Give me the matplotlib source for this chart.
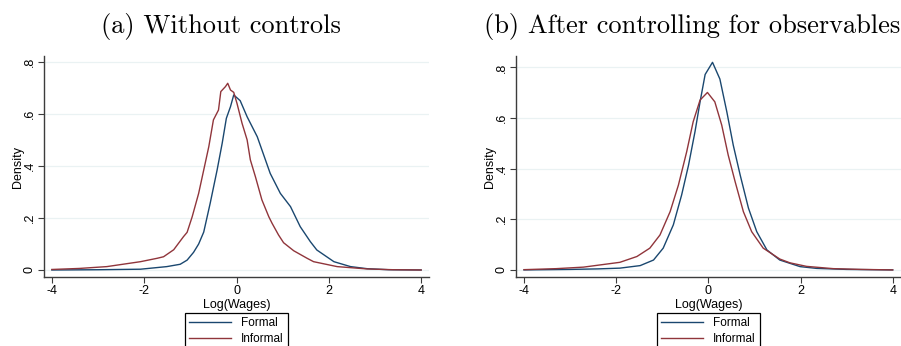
import matplotlib
matplotlib.use("Agg")
import matplotlib.pyplot as plt

W, H = 901, 346

# panel (a): without controls
xa_formal = [-4.0, -3.0, -2.08, -1.51, -1.22, -1.07, -0.93, -0.82, -0.71, -0.57, -0.42, -0.31,
             -0.22, -0.13, -0.06, 0.08, 0.23, 0.45, 0.73, 0.95, 1.17, 1.38, 1.60, 1.74, 2.11,
             2.47, 2.83, 3.3, 4.0]
ya_formal = [0.0, 0.001, 0.003, 0.013, 0.022, 0.038, 0.068, 0.100, 0.146, 0.257, 0.385, 0.488,
             0.584, 0.629, 0.674, 0.652, 0.590, 0.513, 0.372, 0.295, 0.244, 0.167, 0.109,
             0.077, 0.032, 0.013, 0.005, 0.001, 0.0]
xa_informal = [-4.0, -3.4, -2.81, -2.08, -1.72, -1.58, -1.36, -1.15, -1.07, -0.96, -0.82,
               -0.71, -0.60, -0.50, -0.39, -0.34, -0.24, -0.19, -0.13, -0.06, 0.01, 0.12,
               0.23, 0.30, 0.41, 0.55, 0.70, 0.77, 0.91, 1.02, 1.24, 1.53, 1.67, 2.18, 2.83,
               3.4, 4.0]
ya_informal = [0.002, 0.006, 0.013, 0.032, 0.045, 0.051, 0.078, 0.128, 0.145, 0.205, 0.295,
               0.385, 0.475, 0.578, 0.616, 0.687, 0.706, 0.719, 0.693, 0.684, 0.642, 0.565,
               0.501, 0.424, 0.359, 0.270, 0.205, 0.180, 0.135, 0.105, 0.074, 0.045, 0.032,
               0.013, 0.004, 0.001, 0.0]

# panel (b): after controlling for observables
xb_formal = [-4.0, -3.0, -2.4, -1.92, -1.48, -1.19, -0.98, -0.76, -0.58, -0.43, -0.29, -0.18,
             -0.07, 0.09, 0.25, 0.40, 0.54, 0.69, 0.87, 1.05, 1.27, 1.55, 1.99, 2.35, 3.0, 4.0]
yb_formal = [0.0, 0.002, 0.004, 0.007, 0.017, 0.039, 0.086, 0.178, 0.296, 0.414, 0.546, 0.664,
             0.772, 0.820, 0.754, 0.625, 0.493, 0.375, 0.244, 0.151, 0.079, 0.039, 0.013,
             0.006, 0.002, 0.0]
xb_informal = [-4.0, -3.3, -2.71, -1.92, -1.55, -1.27, -1.05, -0.83, -0.65, -0.47, -0.33,
               -0.18, -0.02, 0.14, 0.29, 0.43, 0.58, 0.76, 0.94, 1.19, 1.55, 1.77, 2.13, 2.71,
               3.3, 4.0]
yb_informal = [0.001, 0.005, 0.011, 0.030, 0.053, 0.086, 0.138, 0.230, 0.335, 0.467, 0.585,
               0.671, 0.701, 0.664, 0.572, 0.454, 0.349, 0.230, 0.151, 0.086, 0.043, 0.028,
               0.014, 0.005, 0.002, 0.0]

titles = ["(a) Without controls", "(b) After controlling for observables"]
xticks = [-4, -2, 0, 2, 4]
yticks = [0, 0.2, 0.4, 0.6, 0.8]
yticklabels = ["0", ".2", ".4", ".6", ".8"]

navy = "#1a476f"
maroon = "#90353b"
gridc = "#eaf2f3"
spinec = "#3c3c3c"

plt.rcParams["font.family"] = ["Liberation Sans", "DejaVu Sans"]

fig = plt.figure(figsize=(W / 100, H / 100), dpi=100)


def px_axes(x0, x1, ytop, ybot):
    return fig.add_axes([x0 / W, 1 - ybot / H, (x1 - x0) / W, (ybot - ytop) / H])


panels = [
    dict(box=(44, 429, 56, 277), xlim=(-4.17, 4.17), ylim=(-0.027, 0.824),
         data=(xa_formal, ya_formal, xa_informal, ya_informal), tx=221),
    dict(box=(516, 901, 56, 277), xlim=(-4.174, 4.18), ylim=(-0.028, 0.845),
         data=(xb_formal, yb_formal, xb_informal, yb_informal), tx=692),
]

for p, title in zip(panels, titles):
    ax = px_axes(*p["box"])
    xf, yf, xi, yi = p["data"]
    for y in yticks:
        ax.axhline(y, color=gridc, lw=0.9, zorder=0)
    ax.plot(xf, yf, color=navy, lw=1.0, label="Formal")
    ax.plot(xi, yi, color=maroon, lw=1.0, label="Informal")
    ax.set_xlim(*p["xlim"])
    ax.set_ylim(*p["ylim"])
    ax.set_xticks(xticks)
    ax.set_xticklabels([str(t) for t in xticks])
    ax.set_yticks(yticks)
    ax.set_yticklabels(yticklabels, rotation=90, va="center")
    for s in ["top", "right"]:
        ax.spines[s].set_visible(False)
    for s in ["left", "bottom"]:
        ax.spines[s].set_color(spinec)
        ax.spines[s].set_linewidth(1.0)
    ax.tick_params(axis="both", direction="out", length=4, width=0.8, color=spinec,
                   labelsize=9, pad=2)
    ax.set_xlabel("Log(Wages)", fontsize=9, labelpad=1)
    ax.set_ylabel("Density", fontsize=9, labelpad=0)
    leg = ax.legend(loc="upper center", bbox_to_anchor=(0.5, -0.163), ncol=1,
                    fontsize=8.5, frameon=True, fancybox=False, edgecolor="black",
                    framealpha=1, handlelength=3.5, handletextpad=0.9, borderpad=0.35,
                    labelspacing=0.3, borderaxespad=0)
    leg.get_frame().set_linewidth(0.9)
    fig.text(p["tx"] / W, 1 - 27 / H, title, family="cmr10", fontsize=19,
             ha="center", va="center")

fig.savefig("out.png", dpi=100)
